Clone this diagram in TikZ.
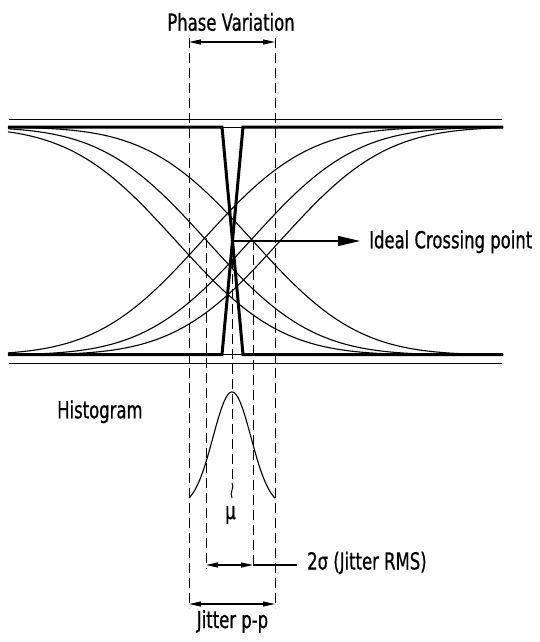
\documentclass[tikz,border=0pt]{standalone}
\usepackage{fontspec}
\setmainfont{DejaVu Sans}[FakeStretch=0.70,FakeBold=0.6]
\usetikzlibrary{arrows.meta}
\begin{document}
\begin{tikzpicture}[x=1pt,y=-1pt,
  lbl/.style={font=\fontsize{23.5}{27}\selectfont, inner sep=0pt},
  thinline/.style={line width=0.9pt},
  thickline/.style={line width=3pt},
  curveline/.style={line width=1.1pt},
  dimline/.style={line width=1pt, dash pattern=on 10pt off 5pt},
  dimarrow/.style={line width=1.1pt, {Triangle[length=12pt,width=5pt]}-{Triangle[length=12pt,width=5pt]}},
]
\fill[white] (0,0) rectangle (539,642);
\useasboundingbox (0,0) rectangle (539,642);

% thin reference lines
\draw[thinline] (9,119.3) -- (502,119.3);
\draw[thinline] (9,363.3) -- (502,363.3);
\draw[thinline] (222,127) -- (243,127);
\draw[thinline] (222,354.5) -- (243,354.5);

% falling edges
\foreach \f in {176,207,253}
  \draw[curveline] plot[domain=8:503, samples=160, smooth]
    (\x, {241+114*tanh(1.1284*((\x-\f)/117)+0.1009*((\x-\f)/117)*((\x-\f)/117)*((\x-\f)/117))});
% rising edges
\foreach \r in {202,250,280}
  \draw[curveline] plot[domain=8:503, samples=160, smooth]
    (\x, {241-114*tanh(1.1284*((\x-\r)/117)+0.1009*((\x-\r)/117)*((\x-\r)/117)*((\x-\r)/117))});

% ideal bold transitions
\draw[thickline] (8,127) -- (222,127) -- (243,354.5) -- (503,354.5);
\draw[thickline] (8,354.5) -- (222,354.5) -- (243,127) -- (503,127);

% dashed reference lines
\draw[dimline] (189,38) -- (189,608);
\draw[dimline] (275,38) -- (275,608);
\draw[dimline] (206,238) -- (206,569);
\draw[dimline] (253,240) -- (253,569);
\draw[dimline] (232,244) -- (232,483);
\draw[line width=1pt] (232,483) .. controls (235,488) and (229,492) .. (232,498);

% histogram
\draw[curveline] plot[domain=189:275, samples=120, smooth]
  (\x, {392+115*(1-exp(-((\x-232)*(\x-232))/(2*19*19)))});

% labels
\node[lbl, anchor=base] (pv) at (231,30.7) {Phase Variation};
\node[lbl, anchor=base west] (ict) at (369,248.3) {Ideal Crossing point};
\node[lbl, anchor=base west] (hist) at (57,418.3) {Histogram};
\node[lbl, anchor=base] (mu) at (230.5,519) {μ};
\node[lbl, anchor=base west] (sig) at (307,569.5) {2σ (Jitter RMS)};
\node[lbl, anchor=base] (jpp) at (232.5,628) {Jitter p-p};

% dimension arrows
\coordinate (pvL) at (189,42);
\coordinate (pvR) at (275,42);
\draw[dimarrow] (pvL) -- (pvR);

\coordinate (icp) at (233,241);
\draw[line width=1.1pt, -{Triangle[length=22pt,width=10pt]}] (icp) -- ([xshift=-9pt]ict.west |- icp);

\coordinate (sL) at (206,565);
\coordinate (sR) at (253,565);
\draw[dimarrow] (sL) -- (sR);
\draw[line width=1.1pt] (sR) -- ([xshift=-10pt]sig.west |- sR);

\coordinate (jL) at (189,604);
\coordinate (jR) at (275,604);
\draw[dimarrow] (jL) -- (jR);
\end{tikzpicture}
\end{document}
